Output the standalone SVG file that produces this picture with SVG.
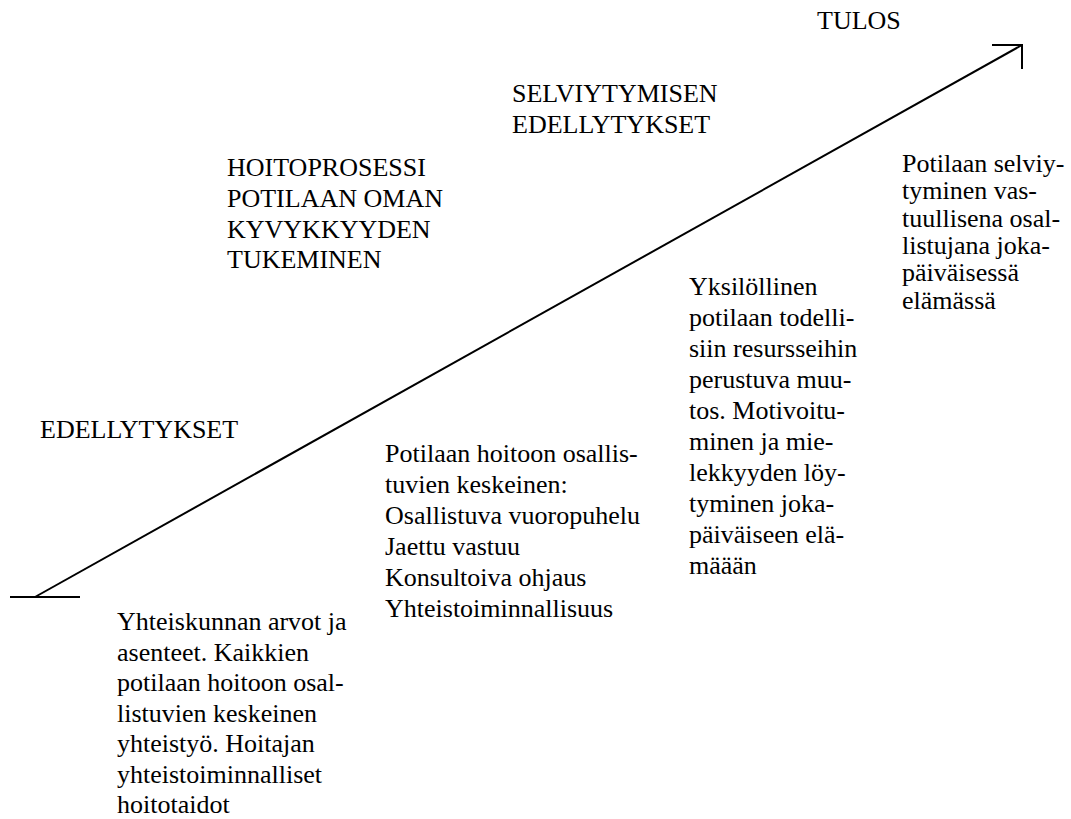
<svg xmlns="http://www.w3.org/2000/svg" width="1071" height="819" viewBox="0 0 1071 819">
<style>
.t{font-size:26px;fill:#000}
.ln{stroke:#000;stroke-width:2;fill:none}
</style>
<rect width="1071" height="819" fill="#fff"/>
<g id="connectors">
<line class="ln" x1="10" y1="597" x2="80" y2="597"/>
<line class="ln" x1="35" y1="597" x2="1022" y2="45"/>
<polyline class="ln" points="992,45 1022,45 1022,69"/>
</g>
<g id="tulos" font-family="Liberation Serif"><text class="t" font-family="Liberation Serif" x="817" y="29">TULOS</text></g>
<g id="selviytymisen" font-family="Liberation Serif">
<text class="t" font-family="Liberation Serif" x="512" y="102">SELVIYTYMISEN</text>
<text class="t" font-family="Liberation Serif" x="512" y="133">EDELLYTYKSET</text>
</g>
<g id="hoitoprosessi" font-family="Liberation Serif">
<text class="t" font-family="Liberation Serif" x="227" y="176">HOITOPROSESSI</text>
<text class="t" font-family="Liberation Serif" x="227" y="207">POTILAAN OMAN</text>
<text class="t" font-family="Liberation Serif" x="227" y="238">KYVYKKYYDEN</text>
<text class="t" font-family="Liberation Serif" x="227" y="268">TUKEMINEN</text>
</g>
<g id="edellytykset" font-family="Liberation Serif"><text class="t" font-family="Liberation Serif" x="40" y="438">EDELLYTYKSET</text></g>
<g id="yhteiskunnan" font-family="Liberation Serif">
<text class="t" font-family="Liberation Serif" x="117" y="630">Yhteiskunnan arvot ja</text>
<text class="t" font-family="Liberation Serif" x="117" y="660.5">asenteet. Kaikkien</text>
<text class="t" font-family="Liberation Serif" x="117" y="691">potilaan hoitoon osal-</text>
<text class="t" font-family="Liberation Serif" x="117" y="721.5">listuvien keskeinen</text>
<text class="t" font-family="Liberation Serif" x="117" y="752">yhteistyö. Hoitajan</text>
<text class="t" font-family="Liberation Serif" x="117" y="782.5">yhteistoiminnalliset</text>
<text class="t" font-family="Liberation Serif" x="117" y="813">hoitotaidot</text>
</g>
<g id="potilaan-hoitoon" font-family="Liberation Serif">
<text class="t" font-family="Liberation Serif" x="385" y="462">Potilaan hoitoon osallis-</text>
<text class="t" font-family="Liberation Serif" x="385" y="493">tuvien keskeinen:</text>
<text class="t" font-family="Liberation Serif" x="385" y="524">Osallistuva vuoropuhelu</text>
<text class="t" font-family="Liberation Serif" x="385" y="555">Jaettu vastuu</text>
<text class="t" font-family="Liberation Serif" x="385" y="586">Konsultoiva ohjaus</text>
<text class="t" font-family="Liberation Serif" x="385" y="617">Yhteistoiminnallisuus</text>
</g>
<g id="yksilollinen" font-family="Liberation Serif">
<text class="t" font-family="Liberation Serif" x="689" y="295">Yksilöllinen</text>
<text class="t" font-family="Liberation Serif" x="689" y="326">potilaan todelli-</text>
<text class="t" font-family="Liberation Serif" x="689" y="357">siin resursseihin</text>
<text class="t" font-family="Liberation Serif" x="689" y="388">perustuva muu-</text>
<text class="t" font-family="Liberation Serif" x="689" y="419">tos. Motivoitu-</text>
<text class="t" font-family="Liberation Serif" x="689" y="450">minen ja mie-</text>
<text class="t" font-family="Liberation Serif" x="689" y="481">lekkyyden löy-</text>
<text class="t" font-family="Liberation Serif" x="689" y="512">tyminen joka-</text>
<text class="t" font-family="Liberation Serif" x="689" y="543">päiväiseen elä-</text>
<text class="t" font-family="Liberation Serif" x="689" y="574">määän</text>
</g>
<g id="potilaan-selviytyminen" font-family="Liberation Serif">
<text class="t" font-family="Liberation Serif" x="902" y="172">Potilaan selviy-</text>
<text class="t" font-family="Liberation Serif" x="902" y="199.3">tyminen vas-</text>
<text class="t" font-family="Liberation Serif" x="902" y="226.6">tuullisena osal-</text>
<text class="t" font-family="Liberation Serif" x="902" y="253.9">listujana joka-</text>
<text class="t" font-family="Liberation Serif" x="902" y="281.2">päiväisessä</text>
<text class="t" font-family="Liberation Serif" x="902" y="308.5">elämässä</text>
</g>
</svg>
